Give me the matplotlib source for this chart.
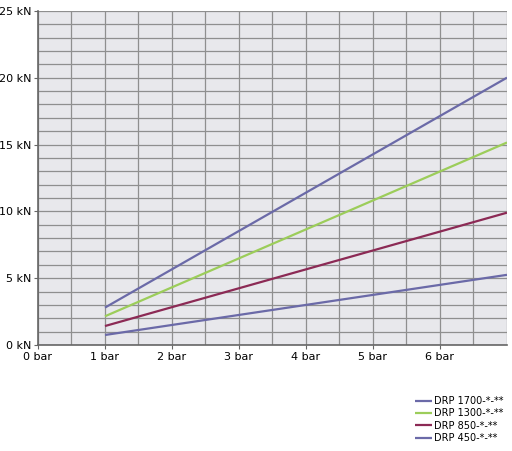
import matplotlib
matplotlib.use("Agg")
import matplotlib.pyplot as plt
import numpy as np

# pressure (bar) and force (kN)
pressure = [1, 7]
models = ["DRP 1700-*-**", "DRP 1300-*-**", "DRP 850-*-**", "DRP 450-*-**"]
force_1700 = [2.8, 20.0]
force_1300 = [2.15, 15.15]
force_850 = [1.42, 9.9]
force_450 = [0.75, 5.25]
colors = ["#6b6aa8", "#9ccd5a", "#8c2a55", "#6b6aa8"]

x_ticks = [0, 1, 2, 3, 4, 5, 6]
x_labels = ["0 bar", "1 bar", "2 bar", "3 bar", "4 bar", "5 bar", "6 bar"]
y_ticks = [0, 5, 10, 15, 20, 25]
y_labels = ["0 kN", "5 kN", "10 kN", "15 kN", "20 kN", "25 kN"]

fig = plt.figure(figsize=(5.12, 4.51), dpi=100)
ax = fig.add_axes([0.0742, 0.235, 0.916, 0.741])
ax.set_facecolor("#e8e8ec")

for name, f, c in zip(models, [force_1700, force_1300, force_850, force_450], colors):
    ax.plot(pressure, f, color=c, lw=1.6, label=name, solid_capstyle="butt")

ax.set_xlim(0, 7)
ax.set_ylim(0, 25)
ax.set_xticks(x_ticks)
ax.set_xticklabels(x_labels)
ax.set_yticks(y_ticks)
ax.set_yticklabels(y_labels)
ax.set_xticks(np.arange(0, 7.01, 0.5), minor=True)
ax.set_yticks(np.arange(0, 25.01, 1), minor=True)
ax.grid(which="both", color="#8f8f8f", lw=0.9)
ax.set_axisbelow(True)
ax.tick_params(which="minor", length=0)
ax.tick_params(which="major", length=3, width=0.8, color="#666666", labelsize=8, pad=2)
for s in ["top", "right"]:
    ax.spines[s].set_visible(False)
for s in ["left", "bottom"]:
    ax.spines[s].set_color("#666666")
    ax.spines[s].set_linewidth(1.2)

fig.legend(loc="upper right", bbox_to_anchor=(0.995, 0.135), frameon=False,
           fontsize=7, handlelength=1.8, handletextpad=0.2, labelspacing=0.25,
           borderaxespad=0.2)

fig.savefig("out.png", dpi=100)
